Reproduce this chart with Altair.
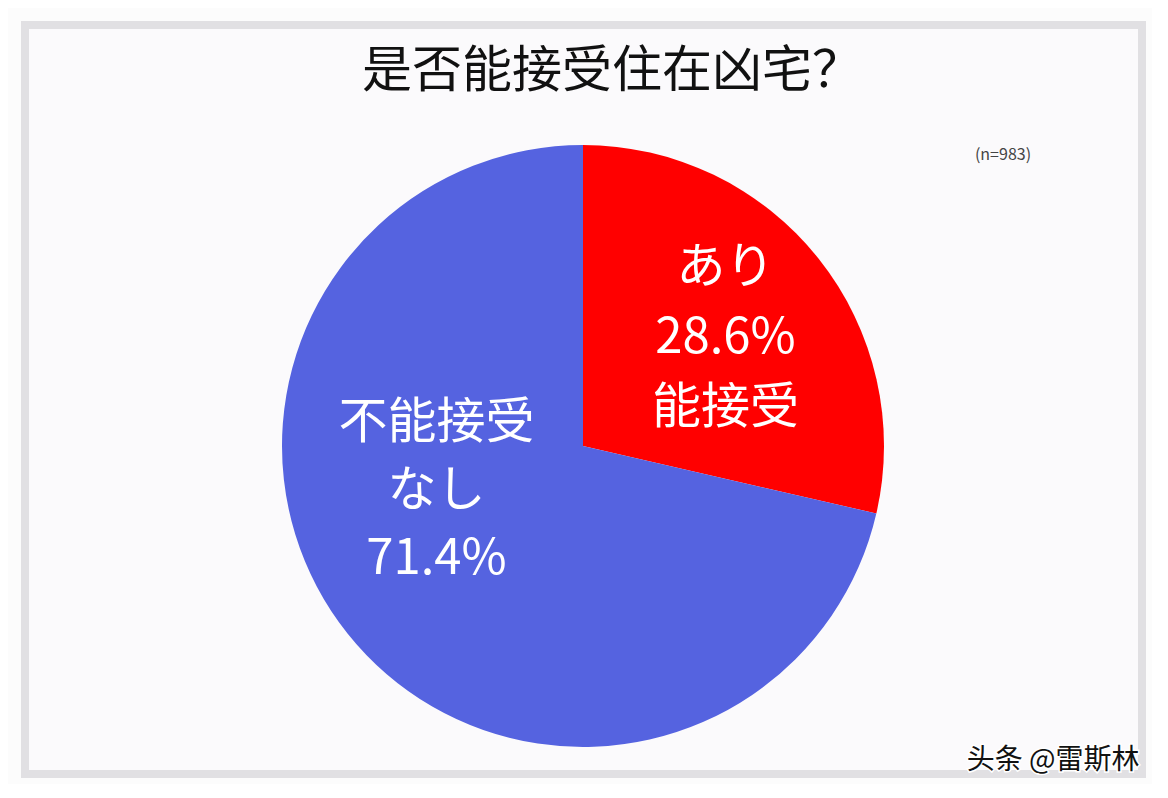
import altair as alt
import pandas as pd

categories = ["あり", "なし"]
values = [28.6, 71.4]
labels = ["あり\n28.6%\n能接受", "不能接受\nなし\n71.4%"]
colors = ["#FF0000", "#5563E0"]

title_text = "是否能接受住在凶宅？"
sample_note = "(n=983)"
watermark = "头条 @雷斯林"

df = pd.DataFrame({"cat": categories, "value": values, "label": labels,
                   "order": [0, 1]})

FONT = "Noto Sans CJK SC"
CX, CY, R = 558, 421, 301

base = alt.Chart(df).encode(
    theta=alt.Theta("value:Q", stack=True),
    order=alt.Order("order:Q"),
)

pie = base.mark_arc(outerRadius=R, stroke=None).encode(
    x=alt.value(CX), y=alt.value(CY),
    color=alt.Color("cat:N", scale=alt.Scale(domain=categories, range=colors), legend=None),
)

lab_red = base.mark_text(radius=177, fontSize=49, font=FONT, color="white",
                         lineBreak="\n", lineHeight=70, align="center",
                         baseline="middle", dx=4, dy=-68).encode(
    x=alt.value(CX), y=alt.value(CY),
    text=alt.condition(alt.datum.cat == "あり", "label:N", alt.value("")),
)

lab_blue = base.mark_text(radius=154, fontSize=49, font=FONT, color="white",
                          lineBreak="\n", lineHeight=68, align="center",
                          baseline="middle", dx=-26, dy=-119).encode(
    x=alt.value(CX), y=alt.value(CY),
    text=alt.condition(alt.datum.cat == "なし", "label:N", alt.value("")),
)

title = alt.Chart(pd.DataFrame({"t": [title_text]})).mark_text(
    fontSize=50, font=FONT, color="#111111", align="center", baseline="middle"
).encode(x=alt.value(587), y=alt.value(47), text="t:N")

note = alt.Chart(pd.DataFrame({"t": [sample_note]})).mark_text(
    fontSize=16, font=FONT, color="#444444", align="center", baseline="middle"
).encode(x=alt.value(978), y=alt.value(130), text="t:N")

wm_df = pd.DataFrame({"t": [watermark]})
wm_bg = alt.Chart(wm_df).mark_text(
    fontSize=28, font=FONT, color="white", stroke="white", strokeWidth=3,
    align="center", baseline="middle"
).encode(x=alt.value(1028), y=alt.value(736), text="t:N")
wm = alt.Chart(wm_df).mark_text(
    fontSize=28, font=FONT, color="#111111", align="center", baseline="middle"
).encode(x=alt.value(1028), y=alt.value(736), text="t:N")

chart = alt.layer(pie, lab_red, lab_blue, title, note, wm_bg, wm).properties(
    width=1117, height=749,
    padding={"left": 17, "top": 17, "right": 10, "bottom": 10},
    autosize=alt.AutoSizeParams(type="none"),
    background="#fcfcfc",
).configure_view(stroke="#e1e0e3", strokeWidth=8, fill="#fbfafc")

chart.save("out.html", embed_options={"renderer": "svg", "actions": False})
